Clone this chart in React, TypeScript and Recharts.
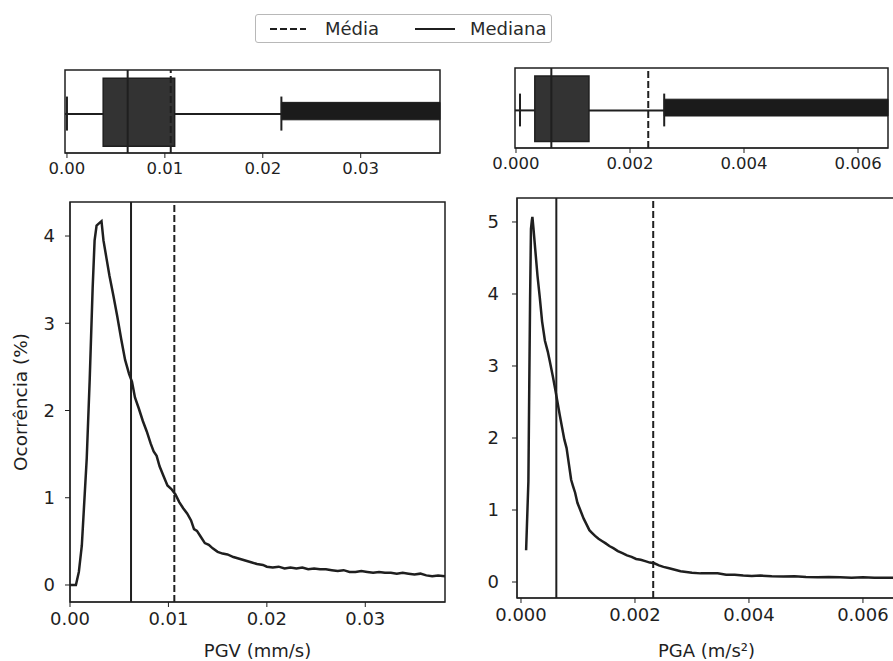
import {
  ComposedChart,
  LineChart,
  Line,
  XAxis,
  YAxis,
  ReferenceLine,
  ReferenceArea,
  Label,
} from 'recharts'

const INK = '#1f1f1f'
const FONT = '"DejaVu Sans", Verdana, sans-serif'

// PGV occurrence curve (x in mm/s, y in %)
const PGV_X = [
  0.0, 0.0006, 0.0009, 0.0012, 0.0015, 0.0017, 0.002, 0.0023, 0.0025, 0.0027,
  0.003, 0.0032, 0.0034, 0.0037, 0.004, 0.0044, 0.0048, 0.0052, 0.0056, 0.006,
  0.0063, 0.0066, 0.007, 0.0074, 0.0078, 0.0082, 0.0085, 0.0088, 0.0091, 0.0095,
  0.0099, 0.0103, 0.0107, 0.0111, 0.0115, 0.0119, 0.0123, 0.0126, 0.0129, 0.0133,
  0.0137, 0.0141, 0.0145, 0.015, 0.0155, 0.016, 0.0166, 0.0172, 0.0178, 0.0184,
  0.019, 0.0196, 0.02, 0.0206, 0.0212, 0.0218, 0.0224, 0.023, 0.0236, 0.0242,
  0.0248, 0.0254, 0.026, 0.0266, 0.0272, 0.0278, 0.0284, 0.029, 0.0296, 0.0302,
  0.0308, 0.0314, 0.032, 0.0326, 0.0332, 0.0338, 0.0344, 0.035, 0.0356, 0.0362,
  0.0368, 0.0374, 0.0381,
]
const PGV_Y = [
  0.0, 0.0, 0.15, 0.45, 1.05, 1.45, 2.35, 3.4, 3.95, 4.12,
  4.15, 4.17, 3.95, 3.75, 3.55, 3.32, 3.08, 2.82, 2.58, 2.42,
  2.33, 2.15, 2.02, 1.88, 1.76, 1.62, 1.53, 1.48, 1.36, 1.25,
  1.14, 1.1, 1.04, 0.95, 0.88, 0.82, 0.74, 0.64, 0.62, 0.55,
  0.48, 0.46, 0.42, 0.38, 0.36, 0.35, 0.32, 0.3, 0.28, 0.26,
  0.24, 0.23, 0.21, 0.2, 0.21, 0.19, 0.2, 0.19, 0.2, 0.18,
  0.19, 0.18, 0.18, 0.17, 0.16, 0.17, 0.15, 0.15, 0.16, 0.15,
  0.14, 0.15, 0.14, 0.14, 0.13, 0.14, 0.13, 0.12, 0.13, 0.11,
  0.1, 0.11, 0.1,
]

// PGA occurrence curve (x in m/s², y in %)
const PGA_X = [
  0.00009, 0.00013, 0.000146, 0.00016, 0.000175, 0.00019, 0.0002, 0.00022, 0.00025, 0.00029,
  0.00033, 0.00037, 0.00042, 0.00047, 0.00051, 0.00056, 0.0006, 0.00064, 0.00068, 0.00072,
  0.00076, 0.0008, 0.00084, 0.00088, 0.00091, 0.00095, 0.00099, 0.00104, 0.0011, 0.00115,
  0.0012, 0.00125, 0.0013, 0.00136, 0.00142, 0.00148, 0.00155, 0.00162, 0.0017, 0.00178,
  0.00186, 0.00194, 0.00202, 0.0021, 0.00218, 0.00226, 0.00234, 0.00242, 0.0025, 0.0026,
  0.0027, 0.0028, 0.0029, 0.003, 0.00315, 0.0033, 0.00345, 0.0036, 0.00375, 0.0039,
  0.00405, 0.0042, 0.0044, 0.0046, 0.0048, 0.005, 0.0052, 0.0054, 0.0056, 0.0058,
  0.006, 0.0062, 0.0064, 0.00658,
]
const PGA_Y = [
  0.44, 1.4, 2.8, 3.95, 4.9, 5.02, 5.07, 4.9, 4.62, 4.25,
  3.95, 3.62, 3.35, 3.2, 3.05, 2.85, 2.68, 2.5, 2.32, 2.15,
  1.98, 1.86, 1.64, 1.42, 1.34, 1.24, 1.1, 1.0, 0.88, 0.8,
  0.72, 0.68, 0.64, 0.6, 0.57, 0.54, 0.5, 0.47, 0.43, 0.4,
  0.37, 0.35, 0.32, 0.31, 0.29, 0.27, 0.26, 0.23, 0.21, 0.19,
  0.17, 0.15, 0.14, 0.13, 0.12, 0.12, 0.12, 0.1, 0.1, 0.09,
  0.085, 0.09, 0.08, 0.075, 0.08, 0.07, 0.065, 0.07, 0.065, 0.06,
  0.065, 0.06, 0.06, 0.06,
]

// box plot stats: [lower whisker, q1, median, q3, upper whisker]
const PGV_STATS = [0.0, 0.0037, 0.0062, 0.011, 0.0219]
const PGA_STATS = [0.00007, 0.00033, 0.00062, 0.00128, 0.0026]
const PGV_MEAN = 0.0106
const PGA_MEAN = 0.00232

const PGV_TICKS = [0, 0.01, 0.02, 0.03]
const PGA_TICKS = [0, 0.002, 0.004, 0.006]
const PGV_Y_TICKS = [0, 1, 2, 3, 4]
const PGA_Y_TICKS = [0, 1, 2, 3, 4, 5]

type Margin = { top: number; right: number; bottom: number; left: number }

interface BoxStripProps {
  stats: number[]
  mean: number
  domain: [number, number]
  ticks: number[]
  decimals: number
  width: number
  height: number
  margin: Margin
}

function BoxStrip({ stats, mean, domain, ticks, decimals, width, height, margin }: BoxStripProps) {
  const [lo, q1, med, q3, hi] = stats
  const mid = 0.47
  // an invisible series keeps both axes registered so the reference shapes can be placed
  const anchor = [
    { x: domain[0], y: 0 },
    { x: domain[1], y: 1 },
  ]
  return (
    <ComposedChart width={width} height={height} margin={margin} data={anchor}>
      <XAxis
        dataKey="x"
        type="number"
        domain={domain}
        allowDataOverflow
        ticks={ticks}
        interval={0}
        tickFormatter={(v: number) => v.toFixed(decimals)}
        tick={{ fill: INK, fontSize: 16.5 }}
        tickSize={5}
        tickMargin={4}
        stroke={INK}
        height={32}
      />
      <YAxis type="number" domain={[0, 1]} allowDataOverflow hide />
      <Line dataKey="y" stroke="none" dot={false} isAnimationActive={false} />
      <ReferenceArea x1={domain[0]} x2={domain[1]} y1={0} y2={1} fill="none" stroke={INK} strokeWidth={1.5} ifOverflow="visible" />
      {/* whiskers and caps */}
      <ReferenceLine segment={[{ x: domain[0], y: mid }, { x: q1, y: mid }]} stroke={INK} strokeWidth={2} ifOverflow="visible" />
      <ReferenceLine segment={[{ x: q3, y: mid }, { x: hi, y: mid }]} stroke={INK} strokeWidth={2} ifOverflow="visible" />
      <ReferenceLine segment={[{ x: lo, y: 0.27 }, { x: lo, y: 0.68 }]} stroke={INK} strokeWidth={2} ifOverflow="visible" />
      <ReferenceLine segment={[{ x: hi, y: 0.27 }, { x: hi, y: 0.68 }]} stroke={INK} strokeWidth={2} ifOverflow="visible" />
      {/* outliers packed into a solid band */}
      <ReferenceArea x1={hi} x2={domain[1]} y1={0.4} y2={0.61} fill="#1b1b1b" fillOpacity={1} stroke="#1b1b1b" ifOverflow="visible" />
      <ReferenceArea x1={q1} x2={q3} y1={0.08} y2={0.9} fill="#333" fillOpacity={1} stroke={INK} strokeWidth={1.5} ifOverflow="visible" />
      <ReferenceLine x={med} stroke={INK} strokeWidth={2} />
      <ReferenceLine x={mean} stroke={INK} strokeWidth={2} strokeDasharray="7 3" />
    </ComposedChart>
  )
}

interface DensityProps {
  xs: number[]
  ys: number[]
  median: number
  mean: number
  xDomain: [number, number]
  yDomain: [number, number]
  xTicks: number[]
  yTicks: number[]
  decimals: number
  xLabel: string
  yLabel?: string
  width: number
  height: number
  margin: Margin
  yWidth: number
  xHeight: number
  yTickGap: number
}

function DensityPanel(p: DensityProps) {
  const data = p.xs.map((x, i) => ({ x, y: p.ys[i] }))
  return (
    <LineChart width={p.width} height={p.height} data={data} margin={p.margin}>
      <XAxis
        dataKey="x"
        type="number"
        domain={p.xDomain}
        allowDataOverflow
        ticks={p.xTicks}
        interval={0}
        tickFormatter={(v: number) => v.toFixed(p.decimals)}
        tick={{ fill: INK, fontSize: 18 }}
        tickSize={5}
        tickMargin={5}
        stroke={INK}
        height={p.xHeight}
      >
        <Label value={p.xLabel} position="insideBottom" offset={4} style={{ fill: INK, fontSize: 18 }} />
      </XAxis>
      <YAxis
        type="number"
        domain={p.yDomain}
        allowDataOverflow
        ticks={p.yTicks}
        interval={0}
        tick={{ fill: INK, fontSize: 18 }}
        tickSize={5}
        tickMargin={p.yTickGap}
        stroke={INK}
        width={p.yWidth}
      >
        {p.yLabel && (
          <Label
            value={p.yLabel}
            angle={-90}
            position="insideLeft"
            offset={20}
            style={{ fill: INK, fontSize: 18.5, textAnchor: 'middle' }}
          />
        )}
      </YAxis>
      <ReferenceArea
        x1={p.xDomain[0]}
        x2={p.xDomain[1]}
        y1={p.yDomain[0]}
        y2={p.yDomain[1]}
        fill="none"
        stroke={INK}
        strokeWidth={1.5}
      />
      <ReferenceLine x={p.median} stroke={INK} strokeWidth={2} />
      <ReferenceLine x={p.mean} stroke={INK} strokeWidth={2} strokeDasharray="7 3" />
      <Line
        dataKey="y"
        type="linear"
        stroke={INK}
        strokeWidth={2.5}
        dot={false}
        isAnimationActive={false}
      />
    </LineChart>
  )
}

function LegendBox() {
  return (
    <div
      style={{
        position: 'absolute',
        left: 255,
        top: 14,
        width: 297,
        height: 29,
        border: '1px solid #b8b8b8',
        borderRadius: 3,
        boxSizing: 'border-box',
      }}
    >
      <svg width={297} height={29}>
        <line x1={14} x2={50} y1={14} y2={14} stroke={INK} strokeWidth={2} strokeDasharray="7 3" />
        <text x={69} y={20} fontSize={18} fill="#2a2a2a">Média</text>
        <line x1={159} x2={199} y1={14} y2={14} stroke={INK} strokeWidth={2} />
        <text x={214} y={20} fontSize={18} fill="#2a2a2a">Mediana</text>
      </svg>
    </div>
  )
}

export default function App() {
  return (
    <div
      style={{
        position: 'absolute',
        left: 0,
        top: 0,
        width: 893,
        height: 661,
        overflow: 'hidden',
        background: '#fff',
        fontFamily: FONT,
      }}
    >
      <LegendBox />
      <div style={{ position: 'absolute', left: 0, top: 60 }}>
        <BoxStrip
          stats={PGV_STATS}
          mean={PGV_MEAN}
          domain={[-0.0002, 0.0381]}
          ticks={PGV_TICKS}
          decimals={2}
          width={460}
          height={125}
          margin={{ top: 10, right: 20, bottom: 0, left: 65 }}
        />
      </div>
      <div style={{ position: 'absolute', left: 480, top: 58 }}>
        <BoxStrip
          stats={PGA_STATS}
          mean={PGA_MEAN}
          domain={[-0.0000175, 0.006526]}
          ticks={PGA_TICKS}
          decimals={3}
          width={413}
          height={122}
          margin={{ top: 10, right: 5, bottom: 0, left: 35 }}
        />
      </div>
      <div style={{ position: 'absolute', left: 0, top: 190 }}>
        <DensityPanel
          xs={PGV_X}
          ys={PGV_Y}
          median={0.0062}
          mean={PGV_MEAN}
          xDomain={[0, 0.0381]}
          yDomain={[-0.195, 4.39]}
          xTicks={PGV_TICKS}
          yTicks={PGV_Y_TICKS}
          decimals={2}
          xLabel="PGV (mm/s)"
          yLabel="Ocorrência (%)"
          width={460}
          height={471}
          margin={{ top: 12, right: 15, bottom: 0, left: 0 }}
          yWidth={70}
          xHeight={59}
          yTickGap={10}
        />
      </div>
      <div style={{ position: 'absolute', left: 450, top: 186 }}>
        <DensityPanel
          xs={PGA_X}
          ys={PGA_Y}
          median={PGA_STATS[2]}
          mean={PGA_MEAN}
          xDomain={[-0.00007, 0.00658]}
          yDomain={[-0.222, 5.333]}
          xTicks={PGA_TICKS}
          yTicks={PGA_Y_TICKS}
          decimals={3}
          xLabel="PGA (m/s²)"
          width={446}
          height={475}
          margin={{ top: 12, right: 0, bottom: 0, left: 0 }}
          yWidth={67}
          xHeight={63}
          yTickGap={13}
        />
      </div>
    </div>
  )
}
